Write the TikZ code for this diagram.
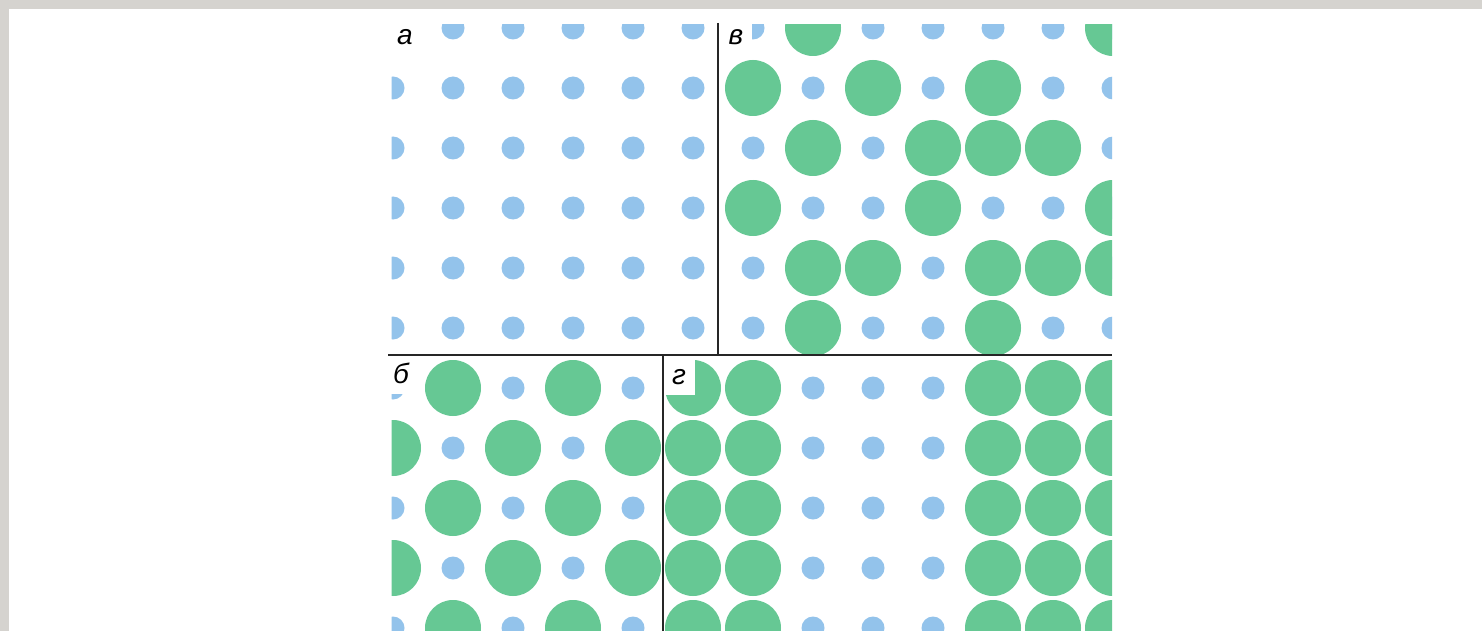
\documentclass[tikz,border=0pt]{standalone}
\usepackage{fontspec}
\setmainfont{Liberation Sans}
\definecolor{dotblue}{RGB}{147,195,235}
\definecolor{dotgreen}{RGB}{102,200,148}
\definecolor{framegray}{RGB}{213,211,207}
\tikzset{
  smalldot/.style={fill=dotblue},
  bigdot/.style={fill=dotgreen},
  panellabel/.style={fill=white, inner sep=0pt, minimum width=32pt, text height=29pt, text depth=11pt, anchor=base, font=\fontsize{28}{28}\selectfont\itshape},
  divider/.style={line width=1.3pt, draw=black!85}
}
\begin{document}
\begin{tikzpicture}[x=1pt, y=-1pt]
\useasboundingbox (0,0) rectangle (1482,631);
\fill[framegray] (0,0) rectangle (1482,631);
\fill[white] (9,9) rectangle (1482,631);

\begin{scope}
\clip (391.5,24.5) rectangle (718,355);
\foreach \y in {28,88,...,328}
  \foreach \x in {393,453,...,693}
    \fill[smalldot] (\x,\y) circle (11.5);
\end{scope}

\begin{scope}
\clip (718,24.5) rectangle (1112,355);
\foreach \y in {28,88,...,328}
  \foreach \x in {753,813,...,1113}
    \fill[smalldot] (\x,\y) circle (11.5);
\foreach \x/\y in {813/28, 1113/28, 753/88, 873/88, 993/88,
                   813/148, 933/148, 993/148, 1053/148,
                   753/208, 933/208, 1113/208,
                   813/268, 873/268, 993/268, 1053/268, 1113/268,
                   813/328, 993/328}
  \fill[bigdot] (\x,\y) circle (28);
\end{scope}

\begin{scope}
\clip (391.5,355) rectangle (663,631);
\foreach \y [count=\j] in {388,448,...,628}
  \foreach \x [count=\i] in {393,453,...,693} {
    \ifodd\numexpr\i+\j\relax
      \fill[bigdot] (\x,\y) circle (28);
    \else
      \fill[smalldot] (\x,\y) circle (11.5);
    \fi
  }
\end{scope}

\begin{scope}
\clip (663,355) rectangle (1112,631);
\foreach \y in {388,448,...,628} {
  \foreach \x in {813,873,933}
    \fill[smalldot] (\x,\y) circle (11.5);
  \foreach \x in {693,753,993,1053,1113}
    \fill[bigdot] (\x,\y) circle (28);
}
\end{scope}

\node[panellabel] (labelA) at (405,45) {а};
\node[panellabel] (labelV) at (736,45) {в};
\node[panellabel] (labelB) at (401,383) {б};
\node[panellabel] (labelG) at (679,384) {г};

\draw[divider] (718,23) -- (718,355);
\draw[divider] (388,355) -- (1112,355);
\draw[divider] (663,355) -- (663,631);
\end{tikzpicture}
\end{document}
